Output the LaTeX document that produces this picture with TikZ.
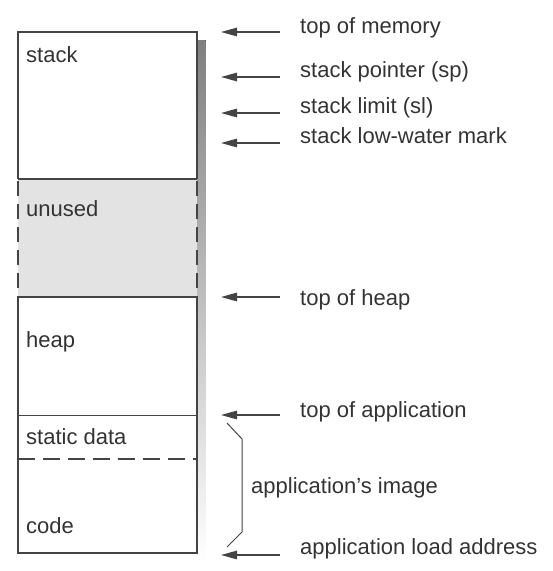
\documentclass[tikz,border=0pt]{standalone}
\usepackage{fontspec}
\setmainfont{Liberation Sans}
\usetikzlibrary{arrows.meta}
\definecolor{ink}{HTML}{333333}
\definecolor{edge}{HTML}{444444}
\definecolor{shade}{HTML}{9C9C9C}
\definecolor{unusedfill}{HTML}{E3E3E3}
\tikzset{
  lbl/.style={anchor=base west, inner sep=0pt, text=ink, font=\fontsize{22}{26}\selectfont},
  ptr/.style={draw=edge, line width=1.3pt, -{Triangle[length=16pt,width=8.5pt]}},
  boxline/.style={draw=edge, line width=2pt},
  brace/.style={draw=edge, line width=1pt},
}
\begin{document}
\begin{tikzpicture}[x=1pt,y=-1pt]
\useasboundingbox (0,0) rectangle (553,571);
% shadow
\fill[shade] (25,40) rectangle (205.5,561);
% body
\fill[white] (17.5,32) rectangle (197,553);
\fill[unusedfill] (17.5,178.5) rectangle (197,297);
% stack part
\draw[boxline] (17.5,178.5) -- (17.5,32) -- (197,32) -- (197,178.5);
\draw[boxline] (17.5,178.5) -- (197,178.5);
% unused sides dashed
\draw[boxline, dash pattern=on 15pt off 8pt] (17.5,181) -- (17.5,297);
\draw[boxline, dash pattern=on 15pt off 8pt] (197,181) -- (197,297);
% lower part
\draw[boxline] (17.5,297) -- (197,297);
\draw[boxline] (17.5,297) -- (17.5,553) -- (197,553) -- (197,297);
\draw[draw=edge, line width=1pt] (17.5,415) -- (197,415);
\draw[draw=edge, line width=1.2pt, dash pattern=on 17pt off 8pt] (17.5,459) -- (197,459);

% region labels
\node[lbl] (stack) at (26,62) {stack};
\node[lbl] (unused) at (26,216) {unused};
\node[lbl] (heap) at (26,347) {heap};
\node[lbl] (static) at (26,444) {static data};
\node[lbl] (code) at (26,533) {code};

% right labels
\node[lbl] (tmem) at (300,33) {top of memory};
\node[lbl] (sp) at (300,77) {stack pointer (sp)};
\node[lbl] (sl) at (300,113) {stack limit (sl)};
\node[lbl] (lwm) at (300,143) {stack low-water mark};
\node[lbl] (theap) at (300,305) {top of heap};
\node[lbl] (tapp) at (300,417) {top of application};
\node[lbl] (load) at (300,554) {application load address};
\node[lbl] (image) at (251,493) {application’s image};

% arrow ends
\foreach \n/\y in {a/32, b/77, c/113, d/143, e/297, f/415, g/555} {
  \coordinate (s\n) at (280,\y);
  \coordinate (t\n) at (221,\y);
}
\draw[ptr] (sa) -- (ta);
\draw[ptr] (sb) -- (tb);
\draw[ptr] (sc) -- (tc);
\draw[ptr] (sd) -- (td);
\draw[ptr] (se) -- (te);
\draw[ptr] (sf) -- (tf);
\draw[ptr] (sg) -- (tg);

% brace
\coordinate (b1) at (227,423);
\coordinate (b2) at (242,439);
\coordinate (b3) at (242,532);
\coordinate (b4) at (227,547);
\draw[brace] (b1) -- (b2) -- (b3) -- (b4);
\end{tikzpicture}
\end{document}
